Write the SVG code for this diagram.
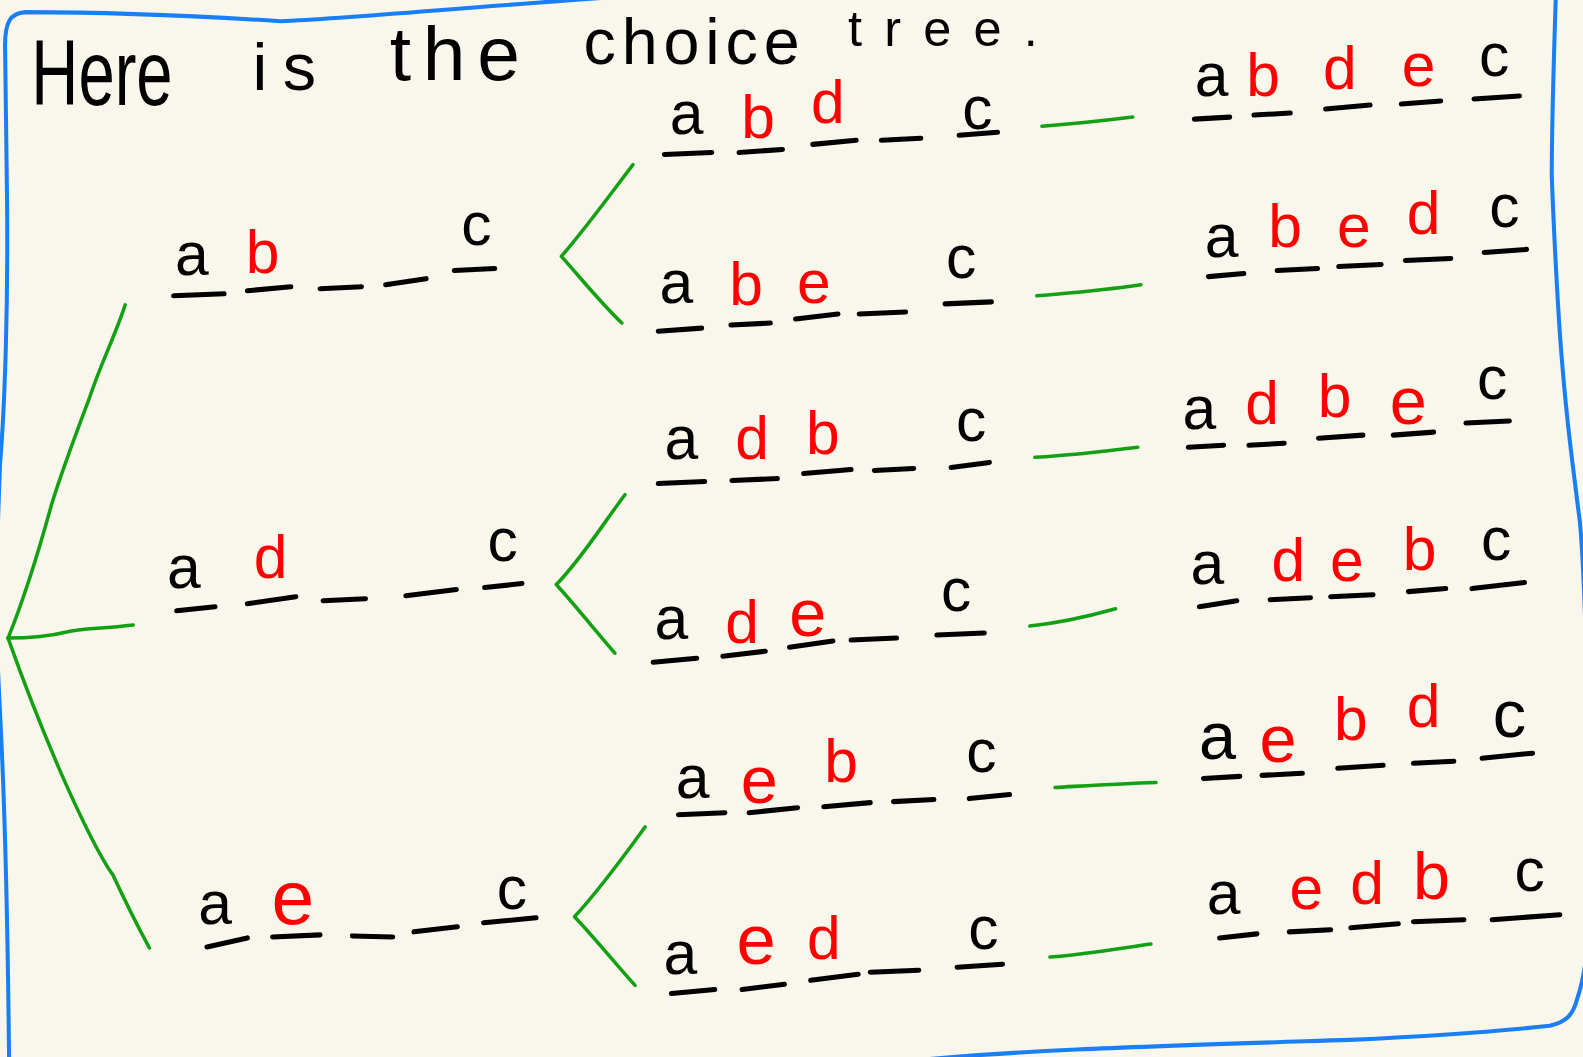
<svg xmlns="http://www.w3.org/2000/svg" width="1583" height="1057" viewBox="0 0 1583 1057">
<style>
text{font-family:"Liberation Sans","DejaVu Sans",sans-serif;font-size:60px;text-anchor:middle;fill:#000}
.r{fill:#ff0000}
.t{text-anchor:start}
.s66{font-size:66px}.s70{font-size:70px}.s76{font-size:76px}
.u{stroke:#000;stroke-width:5;stroke-linecap:round;fill:none}
.g{stroke:#14a014;stroke-width:3.5;stroke-linecap:round;stroke-linejoin:round;fill:none}
.b{stroke:#1a7ff5;stroke-width:4;fill:none;stroke-linecap:round;stroke-linejoin:round}
</style>
<rect width="1583" height="1057" fill="#f9f7eb"/>
<g transform="scale(1.0096)">
<g id="border">
<path class="b" d="M5,45 C5,22 10,13 25,12 C100,12 200,16 278,21 C350,18 450,8 610,-3"/>
<path class="b" d="M5,45 L7,200 C8,300 5,400 0,460 L-5,600 L0,706 C5,800 8,950 9,1050"/>
<path class="b" d="M1541,-3 C1539,60 1537,120 1537,175 C1540,250 1543,300 1545,330 C1550,400 1555,440 1565,518 C1572,600 1575,800 1572,940 C1570,960 1567,975 1562,990 C1558,1005 1552,1012 1535,1016 C1480,1022 1420,1026 1337,1030 C1150,1036 1000,1040 890,1052"/>
</g>
<g id="title">
<text class="t" x="31" y="104" style="font-size:92px" textLength="140" lengthAdjust="spacingAndGlyphs">Here</text>
<text class="t" x="250" y="89" style="font-size:66px" textLength="63" lengthAdjust="spacing">is</text>
<text class="t" x="386" y="79" style="font-size:76px" textLength="129" lengthAdjust="spacing">the</text>
<text class="t" x="578" y="63" style="font-size:64px" textLength="214" lengthAdjust="spacing">choice</text>
<text class="t" x="840" y="46" style="font-size:50px" textLength="188" lengthAdjust="spacing">tree.</text>
</g>
<g id="connectors">
<path class="g" d="M124,302 C115,330 100,360 89,393 C75,430 60,470 51,500 C40,540 25,590 8,632"/>
<path class="g" d="M8,632 C30,632 50,630 66,626 C80,622 100,623 132,619"/>
<path class="g" d="M8,632 C25,680 45,730 61,767 C80,810 100,850 112,867 C125,895 135,915 148,939"/>
<path class="g" d="M627,163 C610,185 585,220 556,254 C575,275 595,300 616,320"/>
<path class="g" d="M619,490 C600,515 575,555 551,579 C570,600 590,625 609,647"/>
<path class="g" d="M639,819 C620,845 595,880 569,908 C590,930 610,955 629,976"/>
<path class="g" d="M1032,125 C1060,123 1090,120 1122,116"/>
<path class="g" d="M1027,293 C1060,290 1090,288 1130,282"/>
<path class="g" d="M1025,453 C1060,451 1095,447 1127,443"/>
<path class="g" d="M1020,620 C1050,617 1080,610 1105,603"/>
<path class="g" d="M1045,780 C1080,778 1110,776 1145,775"/>
<path class="g" d="M1040,948 C1075,945 1105,940 1140,935"/>
</g>
<g id="n-ab">
<text x="190" y="272">a</text><text class="r" x="260" y="270">b</text><text x="472" y="243">c</text>
<path class="u" d="M172,293 L222,291 M245,288 L288,284 M317,286 L358,284 M382,282 L422,276 M450,268 L490,266"/>
</g>
<g id="n-abd">
<text x="680" y="133">a</text><text class="r" x="751" y="137">b</text><text class="r" x="820" y="122">d</text><text x="968" y="128">c</text>
<path class="u" d="M658,153 L705,151 M732,151 L775,148 M805,143 L848,139 M873,139 L912,137 M950,134 L988,131"/>
</g>
<g id="n-abdec">
<text x="1200" y="95">a</text><text class="r" x="1251" y="95">b</text><text class="r" x="1327" y="88">d</text><text class="r" x="1405" y="85">e</text><text x="1480" y="75">c</text>
<path class="u" d="M1183,118 L1218,116 M1242,114 L1278,112 M1313,108 L1357,104 M1388,103 L1427,100 M1460,98 L1505,95"/>
</g>
<g id="n-abe">
<text x="670" y="300">a</text><text class="r" x="739" y="302">b</text><text class="r" x="806" y="300">e</text><text x="952" y="275">c</text>
<path class="u" d="M652,328 L695,325 M724,322 L763,320 M788,316 L830,311 M851,311 L897,309 M936,301 L982,299"/>
</g>
<g id="n-abedc">
<text x="1210" y="255">a</text><text class="r" x="1273" y="245">b</text><text class="r" x="1341" y="245">e</text><text class="r" x="1410" y="232">d</text><text x="1490" y="225">c</text>
<path class="u" d="M1197,274 L1232,271 M1265,268 L1305,266 M1326,264 L1368,262 M1392,258 L1437,256 M1470,250 L1512,247"/>
</g>
<g id="n-ad">
<text x="182" y="582">a</text><text class="r" x="268" y="573">d</text><text x="498" y="556">c</text>
<path class="u" d="M175,605 L213,601 M245,598 L293,591 M320,595 L362,593 M402,590 L452,584 M480,582 L517,578"/>
</g>
<g id="n-adb">
<text x="675" y="455">a</text><text class="r" x="745" y="455">d</text><text class="r" x="815" y="450">b</text><text x="962" y="437">c</text>
<path class="u" d="M652,479 L698,477 M725,476 L770,474 M796,469 L843,465 M866,466 L905,464 M942,463 L980,458"/>
</g>
<g id="n-adbec">
<text x="1188" y="425">a</text><text class="r" x="1250" y="420">d</text><text class="r" x="1322" y="413">b</text><text class="r s66" x="1395" y="420">e</text><text x="1478" y="395">c</text>
<path class="u" d="M1177,443 L1212,441 M1237,441 L1272,439 M1306,434 L1350,431 M1380,431 L1420,428 M1452,419 L1495,417"/>
</g>
<g id="n-ade">
<text x="665" y="633">a</text><text class="r" x="735" y="637">d</text><text class="r s66" x="800" y="630">e</text><text x="947" y="605">c</text>
<path class="u" d="M647,656 L690,652 M716,650 L758,645 M782,641 L825,635 M843,634 L888,632 M928,629 L975,627"/>
</g>
<g id="n-adebc">
<text x="1196" y="578">a</text><text class="r" x="1276" y="575">d</text><text class="r" x="1334" y="575">e</text><text class="r" x="1406" y="565">b</text><text x="1482" y="555">c</text>
<path class="u" d="M1188,601 L1225,595 M1258,594 L1298,592 M1318,591 L1360,589 M1395,586 L1432,583 M1458,583 L1510,577"/>
</g>
<g id="n-ae">
<text x="213" y="915">a</text><text class="r s76" x="290" y="915">e</text><text x="507" y="900">c</text>
<path class="u" d="M205,938 L245,929 M270,928 L317,926 M349,927 L389,928 M410,923 L453,918 M479,914 L531,909"/>
</g>
<g id="n-aeb">
<text x="686" y="790">a</text><text class="r s66" x="752" y="795">e</text><text class="r" x="833" y="775">b</text><text x="972" y="765">c</text>
<path class="u" d="M672,807 L718,805 M742,805 L790,800 M816,799 L862,795 M885,794 L925,792 M960,791 L1000,787"/>
</g>
<g id="n-aebdc">
<text class="s66" x="1206" y="752">a</text><text class="r s66" x="1266" y="755">e</text><text class="r" x="1338" y="733">b</text><text class="r" x="1410" y="720">d</text><text class="s66" x="1495" y="730">c</text>
<path class="u" d="M1192,771 L1228,769 M1250,768 L1290,766 M1325,761 L1370,758 M1400,756 L1440,754 M1468,751 L1518,746"/>
</g>
<g id="n-aed">
<text x="674" y="965">a</text><text class="r s70" x="749" y="955">e</text><text class="r" x="816" y="950">d</text><text x="974" y="940">c</text>
<path class="u" d="M665,984 L708,980 M735,980 L777,975 M803,971 L850,965 M862,963 L910,961 M948,958 L993,955"/>
</g>
<g id="n-aedbc">
<text x="1212" y="905">a</text><text class="r" x="1294" y="900">e</text><text class="r" x="1354" y="895">d</text><text class="r s66" x="1418" y="890">b</text><text x="1515" y="883">c</text>
<path class="u" d="M1208,929 L1245,925 M1277,923 L1318,921 M1338,919 L1385,915 M1400,913 L1450,911 M1478,911 L1545,906"/>
</g>
</g>
</svg>
